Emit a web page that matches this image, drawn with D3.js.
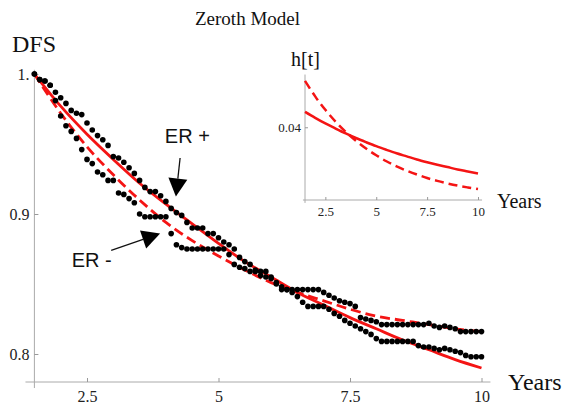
<!DOCTYPE html>
<html>
<head>
<meta charset="utf-8">
<script src="https://cdn.jsdelivr.net/npm/d3@7"></script>
<style>
    body { margin: 0; background: #fff; }
    svg { display: block; }
    .serif { font-family: "Liberation Serif", "Times New Roman", serif; fill: #111; }
    .sans { font-family: "Liberation Sans", Arial, sans-serif; fill: #111; }
    .tick text { font-family: "Liberation Serif", "Times New Roman", serif; fill: #222; }
    .tick line { stroke: #999; }
</style>
</head>
<body>
<div id="contents"></div>
<script>
// observation times (years) for both dotted series
var years = [
    1.5, 1.6, 1.7, 1.8, 1.9, 2.0, 2.1, 2.2, 2.3, 2.4,
    2.5, 2.6, 2.7, 2.8, 2.9, 3.0, 3.1, 3.2, 3.3, 3.4,
    3.5, 3.6, 3.7, 3.8, 3.9, 4.0, 4.1, 4.2, 4.3, 4.4,
    4.5, 4.6, 4.7, 4.8, 4.9, 5.0, 5.1, 5.2, 5.3, 5.4,
    5.5, 5.6, 5.7, 5.8, 5.9, 6.0, 6.1, 6.2, 6.3, 6.4,
    6.5, 6.6, 6.7, 6.8, 6.9, 7.0, 7.1, 7.2, 7.3, 7.4,
    7.5, 7.6, 7.7, 7.8, 7.9, 8.0, 8.1, 8.2, 8.3, 8.4,
    8.5, 8.6, 8.7, 8.8, 8.9, 9.0, 9.1, 9.2, 9.3, 9.4,
    9.5, 9.6, 9.7, 9.8, 9.9, 10.0
];
var dfsErPlus = [
    1.000, 0.996, 0.995, 0.992, 0.987, 0.983, 0.979, 0.974, 0.972, 0.971,
    0.965, 0.960, 0.956, 0.953, 0.949, 0.941, 0.940, 0.937, 0.933, 0.929,
    0.924, 0.919, 0.916, 0.916, 0.913, 0.909, 0.904, 0.901, 0.899, 0.894,
    0.890, 0.890, 0.890, 0.886, 0.886, 0.883, 0.880, 0.878, 0.875, 0.869,
    0.866, 0.864, 0.860, 0.859, 0.859, 0.855, 0.850, 0.846, 0.846, 0.844,
    0.841, 0.837, 0.834, 0.834, 0.834, 0.834, 0.832, 0.829, 0.827, 0.824,
    0.822, 0.820, 0.818, 0.816, 0.814, 0.811, 0.809, 0.809, 0.809, 0.809,
    0.809, 0.809, 0.809, 0.806, 0.805, 0.805, 0.804, 0.803, 0.804, 0.803,
    0.802, 0.801, 0.799, 0.798, 0.798, 0.798
];
var dfsErMinus = [
    1.000, 0.996, 0.995, 0.992, 0.981, 0.970, 0.963, 0.959, 0.954, 0.946,
    0.939, 0.936, 0.930, 0.928, 0.924, 0.924, 0.915, 0.914, 0.911, 0.908,
    0.900, 0.898, 0.898, 0.898, 0.898, 0.898, 0.886, 0.878, 0.876, 0.875,
    0.875, 0.875, 0.875, 0.875, 0.875, 0.875, 0.875, 0.871, 0.864, 0.862,
    0.861, 0.859, 0.859, 0.856, 0.855, 0.854, 0.851, 0.848, 0.846, 0.846,
    0.846, 0.846, 0.846, 0.846, 0.846, 0.844, 0.842, 0.840, 0.838, 0.837,
    0.836, 0.834, 0.826, 0.825, 0.824, 0.823, 0.821, 0.821, 0.821, 0.821,
    0.821, 0.821, 0.821, 0.821, 0.821, 0.822, 0.820, 0.819, 0.820, 0.819,
    0.818, 0.816, 0.816, 0.816, 0.816, 0.816
];

// model curves (main plot and inset hazard)
var modelYears   = [1.5, 2, 2.5, 3, 3.5, 4, 4.5, 5, 5.5, 6, 6.5, 7, 7.5, 8, 8.5, 9, 9.5, 10];
var fitErPlus    = [1.000, 0.977, 0.957, 0.939, 0.922, 0.907, 0.893, 0.879, 0.866, 0.855, 0.844, 0.835, 0.826, 0.818, 0.810, 0.803, 0.796, 0.790];
var fitErMinus   = [1.000, 0.972, 0.948, 0.928, 0.910, 0.894, 0.881, 0.870, 0.860, 0.851, 0.844, 0.838, 0.832, 0.827, 0.824, 0.821, 0.818, 0.816];
var hazardPlus   = [0.0485, 0.0452, 0.0421, 0.0393, 0.0366, 0.0341, 0.0318, 0.0296, 0.0276, 0.0257, 0.0240, 0.0223, 0.0208, 0.0194, 0.0181, 0.0168, 0.0157, 0.0146];
var hazardMinus  = [0.0655, 0.0570, 0.0496, 0.0431, 0.0375, 0.0326, 0.0283, 0.0246, 0.0213, 0.0185, 0.0161, 0.0140, 0.0121, 0.0105, 0.0091, 0.0079, 0.0069, 0.0060];

// ticks
var xTicks       = [2.5, 5, 7.5, 10];
var xTickLabels  = ['2.5', '5', '7.5', '10'];
var yTicks       = [0.8, 0.9, 1];
var yTickLabels  = ['0.8', '0.9', '1.'];
var insetYTicks  = [0.04];
var insetYLabels = ['0.04'];

(function(){
    'use strict';
    var W = 567, H = 406;
    var RED = '#f41414';

    var svg = d3.select('#contents').append('svg')
        .attr('width', W)
        .attr('height', H);
    svg.append('rect').attr('width', W).attr('height', H).attr('fill', '#fff');

    function zip(xs, ys) {
        return xs.map(function(x, i){ return [x, ys[i]]; });
    }

    function labelFor(ticks, labels) {
        return function(d){ return labels[ticks.indexOf(d)]; };
    }

    // ---------- main plot ----------
    var x = d3.scaleLinear().domain([1.5, 10]).range([34.4, 481.5]);
    var y = d3.scaleLinear().domain([0.78, 1.0]).range([382, 74]);

    var main = svg.append('g');

    // axis lines (a bit of overhang like the original)
    main.append('line')
        .attr('x1', x(1.33)).attr('x2', x(10.17))
        .attr('y1', y(0.78)).attr('y2', y(0.78))
        .attr('stroke', '#aaa').attr('stroke-width', 1);
    main.append('line')
        .attr('x1', x(1.5)).attr('x2', x(1.5))
        .attr('y1', y(1.003)).attr('y2', y(0.7757))
        .attr('stroke', '#aaa').attr('stroke-width', 1);

    var xAxis = main.append('g')
        .attr('transform', 'translate(0,' + y(0.78) + ')')
        .call(d3.axisBottom(x)
            .tickValues(xTicks)
            .tickFormat(labelFor(xTicks, xTickLabels))
            .tickSizeInner(-4)
            .tickSizeOuter(0)
            .tickPadding(9));
    xAxis.select('.domain').remove();
    xAxis.selectAll('text').attr('font-size', 16);

    var yAxis = main.append('g')
        .attr('transform', 'translate(' + x(1.5) + ',0)')
        .call(d3.axisLeft(y)
            .tickValues(yTicks)
            .tickFormat(labelFor(yTicks, yTickLabels))
            .tickSizeInner(-4)
            .tickSizeOuter(0)
            .tickPadding(5));
    yAxis.select('.domain').remove();
    yAxis.selectAll('text').attr('font-size', 16);

    var line = d3.line()
        .x(function(d){ return x(d[0]); })
        .y(function(d){ return y(d[1]); })
        .curve(d3.curveMonotoneX);

    main.append('path')
        .attr('d', line(zip(modelYears, fitErMinus)))
        .attr('fill', 'none')
        .attr('stroke', RED)
        .attr('stroke-width', 2.8)
        .attr('stroke-dasharray', '10,5');

    main.append('path')
        .attr('d', line(zip(modelYears, fitErPlus)))
        .attr('fill', 'none')
        .attr('stroke', RED)
        .attr('stroke-width', 2.8);

    // observed points
    [dfsErPlus, dfsErMinus].forEach(function(series){
        main.append('g')
            .selectAll('circle')
            .data(zip(years, series))
            .enter()
            .append('circle')
            .attr('cx', function(d){ return x(d[0]); })
            .attr('cy', function(d){ return y(d[1]); })
            .attr('r', 2.8)
            .attr('fill', '#000');
    });

    // annotations with arrows
    var notes = [
        {text: 'ER +', at: [3.98, 0.951], tail: [4.27, 0.940], tip: [4.19, 0.9125]},
        {text: 'ER -', at: [2.21, 0.862], tail: [2.96, 0.874], tip: [3.89, 0.886]}
    ];
    var HEAD = 18, HALF = 9.5;
    notes.forEach(function(n){
        var x0 = x(n.tail[0]), y0 = y(n.tail[1]);
        var x1 = x(n.tip[0]), y1 = y(n.tip[1]);
        var dx = x1 - x0, dy = y1 - y0, len = Math.sqrt(dx * dx + dy * dy);
        var ux = dx / len, uy = dy / len;
        var bx = x1 - ux * HEAD, by = y1 - uy * HEAD;
        main.append('line')
            .attr('x1', x0).attr('y1', y0)
            .attr('x2', bx).attr('y2', by)
            .attr('stroke', '#111').attr('stroke-width', 1.3);
        main.append('path')
            .attr('d', 'M' + x1 + ',' + y1 +
                'L' + (bx - uy * HALF) + ',' + (by + ux * HALF) +
                'L' + (bx + uy * HALF) + ',' + (by - ux * HALF) + 'Z')
            .attr('fill', '#000');
        main.append('text')
            .attr('class', 'sans')
            .attr('x', x(n.at[0]))
            .attr('y', y(n.at[1]))
            .attr('font-size', 20)
            .text(n.text);
    });

    svg.append('text').attr('class', 'serif')
        .attr('x', 195).attr('y', 25).attr('font-size', 19)
        .text('Zeroth Model');
    svg.append('text').attr('class', 'serif')
        .attr('x', 12).attr('y', 52).attr('font-size', 24)
        .text('DFS');
    svg.append('text').attr('class', 'serif')
        .attr('x', 508).attr('y', 390).attr('font-size', 24)
        .text('Years');

    // ---------- inset: hazard ----------
    var ix = d3.scaleLinear().domain([1.5, 10]).range([305, 478]);
    var iy = d3.scaleLinear().domain([0, 0.066]).range([200, 80]);
    var inset = svg.append('g');

    inset.append('line')
        .attr('x1', ix(1.4)).attr('x2', ix(10.2))
        .attr('y1', iy(0)).attr('y2', iy(0))
        .attr('stroke', '#aaa').attr('stroke-width', 1);
    inset.append('line')
        .attr('x1', ix(1.5)).attr('x2', ix(1.5))
        .attr('y1', iy(0.069)).attr('y2', iy(-0.0016))
        .attr('stroke', '#aaa').attr('stroke-width', 1);

    var ixAxis = inset.append('g')
        .attr('transform', 'translate(0,' + iy(0) + ')')
        .call(d3.axisBottom(ix)
            .tickValues(xTicks)
            .tickFormat(labelFor(xTicks, xTickLabels))
            .tickSizeInner(-3)
            .tickSizeOuter(0)
            .tickPadding(7));
    ixAxis.select('.domain').remove();
    ixAxis.selectAll('text').attr('font-size', 13);

    var iyAxis = inset.append('g')
        .attr('transform', 'translate(' + ix(1.5) + ',0)')
        .call(d3.axisLeft(iy)
            .tickValues(insetYTicks)
            .tickFormat(labelFor(insetYTicks, insetYLabels))
            .tickSizeInner(-3)
            .tickSizeOuter(0)
            .tickPadding(4));
    iyAxis.select('.domain').remove();
    iyAxis.selectAll('text').attr('font-size', 13);

    var iline = d3.line()
        .x(function(d){ return ix(d[0]); })
        .y(function(d){ return iy(d[1]); })
        .curve(d3.curveMonotoneX);

    inset.append('path')
        .attr('d', iline(zip(modelYears, hazardMinus)))
        .attr('fill', 'none')
        .attr('stroke', RED)
        .attr('stroke-width', 2.5)
        .attr('stroke-dasharray', '9,5');
    inset.append('path')
        .attr('d', iline(zip(modelYears, hazardPlus)))
        .attr('fill', 'none')
        .attr('stroke', RED)
        .attr('stroke-width', 2.5);

    svg.append('text').attr('class', 'serif')
        .attr('x', 291).attr('y', 66).attr('font-size', 20)
        .text('h[t]');
    svg.append('text').attr('class', 'serif')
        .attr('x', 497).attr('y', 208).attr('font-size', 20)
        .text('Years');
})();
</script>
</body>
</html>
